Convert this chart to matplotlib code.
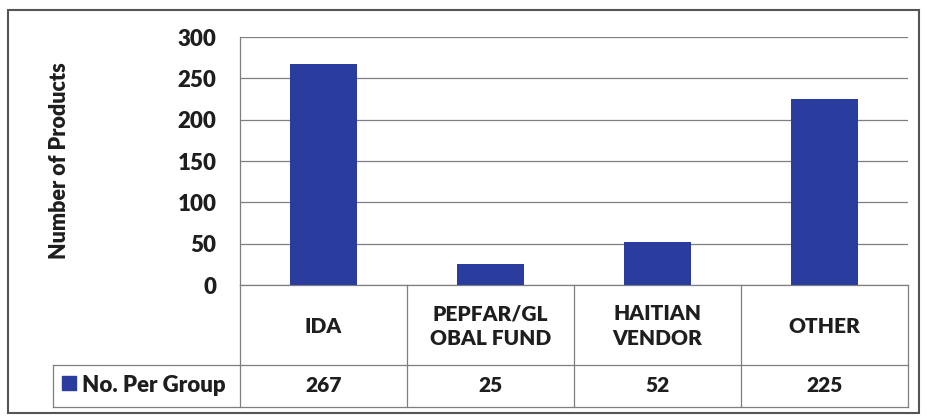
import matplotlib.pyplot as plt
from matplotlib.patches import Rectangle
from matplotlib.lines import Line2D
import matplotlib.transforms as mtransforms

# data
categories = ['IDA', 'PEPFAR/GL\nOBAL FUND', 'HAITIAN\nVENDOR', 'OTHER']
values = [267, 25, 52, 225]
series_name = 'No. Per Group'
yticks = [0, 50, 100, 150, 200, 250, 300]

barColor = '#2A3D9E'
textColor = '#1E1E1E'
lineColor = '#7F7F7F'
wt = 'heavy'

plt.rcParams['font.family'] = ['Lato', 'DejaVu Sans']

W, H = 927, 417
fig = plt.figure(figsize=(W / 100, H / 100), dpi=100)

# plot area in pixel terms
left, right, top, bottom = 240, 908, 37, 285
ax = fig.add_axes([left / W, 1 - bottom / H, (right - left) / W, (bottom - top) / H])

x = list(range(len(categories)))
ax.bar(x, values, width=0.4, color=barColor, zorder=3)
ax.set_xlim(-0.5, len(categories) - 0.5)
ax.set_ylim(0, 300)
ax.set_yticks(yticks)
ax.set_yticklabels([str(t) for t in yticks], fontsize=16, fontweight=wt, color=textColor)
ax.tick_params(axis='y', length=0, pad=17)
ax.set_xticks([])
ax.grid(axis='y', color=lineColor, linewidth=0.9, zorder=0)
for s in ['top', 'right', 'bottom']:
    ax.spines[s].set_visible(False)
ax.spines['left'].set_color(lineColor)
ax.spines['left'].set_linewidth(0.9)

ax.set_ylabel('Number of Products', fontsize=15.5, fontweight=wt, color=textColor, labelpad=0)
ax.yaxis.set_label_coords(-0.255, 0.5)

# data table under the plot
axH = bottom - top
row1 = (bottom - 365) / axH
row2 = (bottom - 407) / axH
legLeft = (53 - left) / (right - left)
tr = ax.transAxes
blend = mtransforms.blended_transform_factory(ax.transData, ax.transAxes)

def hline(y, x0, x1):
    ax.add_line(Line2D([x0, x1], [y, y], transform=tr, color=lineColor, lw=0.9, clip_on=False))

def vline(xx, y0, y1):
    ax.add_line(Line2D([xx, xx], [y0, y1], transform=tr, color=lineColor, lw=0.9, clip_on=False))

hline(0, 0, 1)
hline(row1, legLeft, 1)
hline(row2, legLeft, 1)
vline(legLeft, row1, row2)
for i in range(len(categories) + 1):
    vline(i / len(categories), 0, row2)

for i, c in enumerate(categories):
    ax.text(i, row1 / 2 - 0.005, c, transform=blend, ha='center', va='center', fontsize=15,
            fontweight=wt, color=textColor, linespacing=1.4)
    ax.text(i, (row1 + row2) / 2, str(values[i]), transform=blend, ha='center', va='center',
            fontsize=15, fontweight=wt, color=textColor)

# legend key inside the table
fig.patches.append(Rectangle((62 / W, 1 - 390 / H), 14 / W, 14 / H, transform=fig.transFigure,
                             color=barColor))
fig.text(82 / W, 1 - 386 / H, series_name, ha='left', va='center', fontsize=16,
         fontweight=wt, color=textColor)

# outer chart border
fig.patches.append(Rectangle((8 / W, 1 - 413 / H), 911 / W, 403 / H, transform=fig.transFigure,
                             fill=False, edgecolor='#555555', linewidth=1.5))

fig.savefig('out.png', dpi=100)
